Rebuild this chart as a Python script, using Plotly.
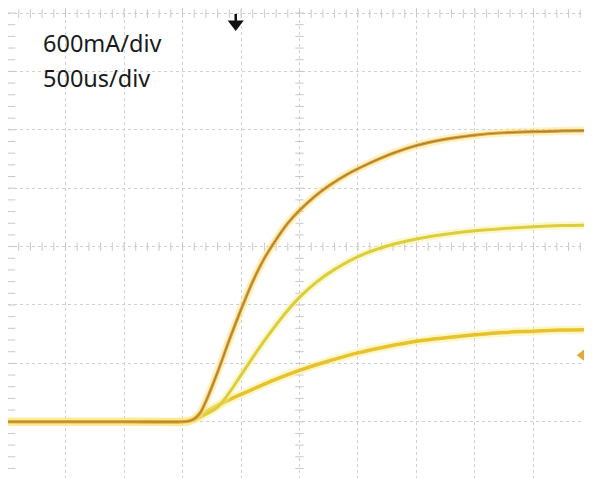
import numpy as np
import plotly.graph_objects as go

# Time axis in divisions (500 us/div), current in divisions (600 mA/div)
t1 = [0, 1, 2, 3, 3.1, 3.2, 3.3, 3.4, 3.6, 3.8, 4.0, 4.2, 4.4, 4.6, 4.8, 5.0, 5.25, 5.5, 5.8, 6.2, 6.6, 7.0, 7.5, 8.0, 8.5, 9.0, 9.5, 10.2]
i1 = [1.0, 1.0, 1.0, 1.0, 1.01, 1.05, 1.15, 1.35, 1.85, 2.4, 2.92, 3.4, 3.8, 4.12, 4.4, 4.62, 4.85, 5.04, 5.23, 5.43, 5.6, 5.73, 5.84, 5.91, 5.95, 5.97, 5.98, 5.99]

t2 = [0, 1, 2, 3, 3.1, 3.2, 3.3, 3.4, 3.6, 3.8, 4.0, 4.2, 4.4, 4.6, 4.8, 5.0, 5.3, 5.6, 6.0, 6.5, 7.0, 7.5, 8.0, 8.5, 9.0, 9.5, 10.2]
i2 = [1.0, 1.0, 1.0, 1.0, 1.01, 1.04, 1.08, 1.13, 1.25, 1.5, 1.8, 2.1, 2.39, 2.66, 2.91, 3.13, 3.4, 3.61, 3.83, 4.01, 4.13, 4.21, 4.27, 4.31, 4.34, 4.36, 4.37]

t3 = [0, 1, 2, 3, 3.1, 3.2, 3.3, 3.4, 3.6, 3.8, 4.0, 4.3, 4.6, 5.0, 5.5, 6.0, 6.5, 7.0, 7.5, 8.0, 8.5, 9.0, 9.5, 10.2]
i3 = [1.0, 1.0, 1.0, 1.0, 1.01, 1.04, 1.1, 1.17, 1.28, 1.38, 1.47, 1.6, 1.73, 1.88, 2.04, 2.18, 2.29, 2.38, 2.44, 2.49, 2.53, 2.55, 2.57, 2.58]

labels = ["600mA/div", "500us/div"]
trigger_time = 3.91
trigger_level = 2.14

fig = go.Figure()

# oscilloscope center-line / border tick marks (decoration)
minor_x = np.arange(0, 10.001, 0.2)
minor_y = np.arange(0, 8.001, 0.2)
tick_col = "#c8c8c8"
def tickrow(xs, ys, sym):
    fig.add_trace(go.Scatter(x=xs, y=ys, mode="markers",
                             marker=dict(symbol=sym, size=6, line=dict(width=1, color=tick_col)),
                             hoverinfo="skip", showlegend=False))
tickrow(minor_x, [4] * len(minor_x), "line-ns")
tickrow([5] * len(minor_y), minor_y, "line-ew")
tickrow([0.07] * len(minor_y), minor_y, "line-ew")
tickrow([9.96] * len(minor_y), minor_y, "line-ew")
tickrow(minor_x, [7.99] * len(minor_x), "line-ns")

def add_curve(t, i, glow, main, mw, core=None):
    fig.add_trace(go.Scatter(x=t, y=i, mode="lines", line=dict(color=glow, width=mw + 5, shape="spline"),
                             hoverinfo="skip", showlegend=False))
    fig.add_trace(go.Scatter(x=t, y=i, mode="lines", line=dict(color=main, width=mw, shape="spline"),
                             showlegend=False))
    if core:
        fig.add_trace(go.Scatter(x=t, y=i, mode="lines", line=dict(color=core, width=1.2, shape="spline"),
                                 hoverinfo="skip", showlegend=False))

add_curve(t3, i3, "rgba(250,235,130,0.45)", "#E6C22C", 3.5)
add_curve(t2, i2, "rgba(245,240,150,0.45)", "#DCCD3C", 3.0)
add_curve(t1, i1, "rgba(255,225,120,0.45)", "#E0A232", 3.2, core="#A8803A")

# trigger position marker (black down arrow at the top)
fig.add_trace(go.Scatter(x=[trigger_time, trigger_time], y=[7.985, 7.84], mode="lines",
                         line=dict(color="#111111", width=2.5), hoverinfo="skip", showlegend=False))
fig.add_trace(go.Scatter(x=[trigger_time], y=[7.81], mode="markers",
                         marker=dict(symbol="triangle-down", size=14, color="#111111"),
                         hoverinfo="skip", showlegend=False))
# trigger level marker (orange left arrow at the right edge)
fig.add_trace(go.Scatter(x=[9.86, 10.02], y=[trigger_level, trigger_level], mode="lines",
                         line=dict(color="#E3A73A", width=2.5), hoverinfo="skip", showlegend=False))
fig.add_trace(go.Scatter(x=[9.84], y=[trigger_level], mode="markers",
                         marker=dict(symbol="triangle-left", size=12, color="#E3A73A"),
                         hoverinfo="skip", showlegend=False))

# page body has an 8px offset; the ranges place the grid where the screen shows it
fig.update_xaxes(range=[0.017, 10.137], dtick=1, tick0=0, showgrid=True, gridcolor="#d0d0d0",
                 griddash="dot", gridwidth=1, showticklabels=False, zeroline=False, showline=False, ticks="")
fig.update_yaxes(range=[-0.10, 8.086], dtick=1, tick0=0, showgrid=True, gridcolor="#d0d0d0",
                 griddash="dot", gridwidth=1, showticklabels=False, zeroline=False, showline=False, ticks="")

W, H = 592, 478
for k, txt in enumerate(labels):
    fig.add_annotation(x=33 / W, y=1 - (35 + 35 * k) / H, xref="paper", yref="paper", text=txt, showarrow=False,
                       xanchor="left", yanchor="middle",
                       font=dict(family="Noto Sans", size=23.5, color="#1a1a1a"))

fig.update_layout(width=W, height=H, margin=dict(l=0, r=0, t=0, b=0),
                  paper_bgcolor="white", plot_bgcolor="white", showlegend=False)

fig.write_html("out.html")
